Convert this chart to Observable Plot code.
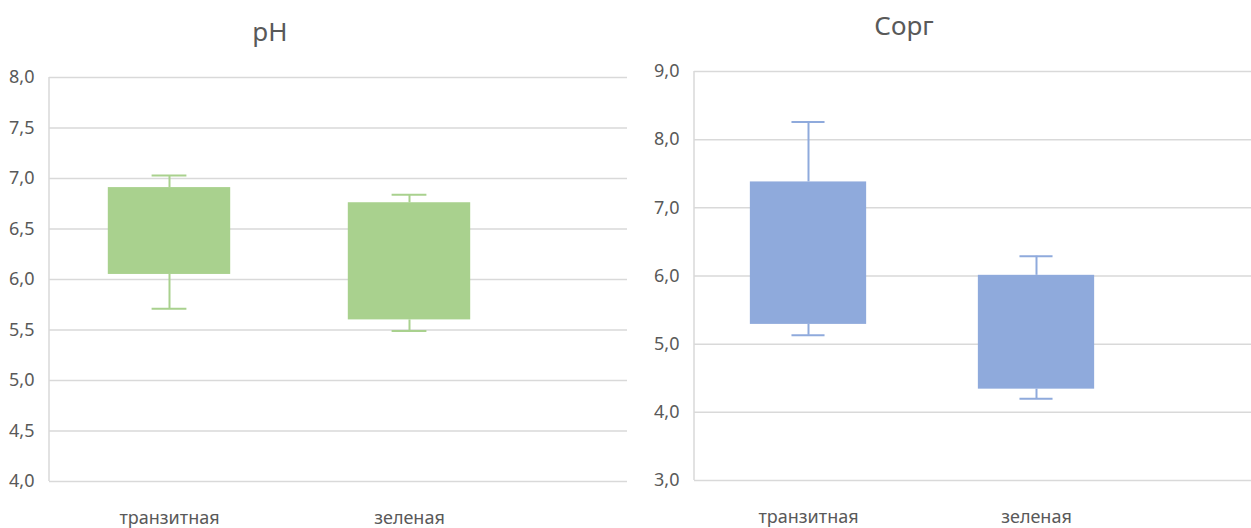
<!DOCTYPE html>
<html><head><meta charset="utf-8">
<script src="https://cdn.jsdelivr.net/npm/d3@7"></script>
<script src="https://cdn.jsdelivr.net/npm/@observablehq/plot@0.6"></script>
<style>
body{margin:0;background:#fff;width:1251px;height:528px;overflow:hidden;position:relative;font-family:"Noto Sans",sans-serif;}
.panel{position:absolute;top:0}
.panel svg text{font-size:18px !important;font-family:"Noto Sans",sans-serif !important;fill:#595959}
.title{position:absolute;font-size:26px;color:#595959;transform:translateX(-50%);white-space:nowrap;line-height:1}
</style></head><body>
<div id="left" class="panel" style="left:0"></div>
<div id="right" class="panel" style="left:620px"></div>
<div class="title" style="left:270px;top:18px">pH</div>
<div class="title" style="left:904px;top:12px">Сорг</div>
<script>
const categories = ["транзитная", "зеленая"];
// pH
const phMin = [5.71, 5.49];
const phQ1  = [6.05, 5.60];
const phQ3  = [6.91, 6.76];
const phMax = [7.03, 6.84];
const phTicks = [4.0, 4.5, 5.0, 5.5, 6.0, 6.5, 7.0, 7.5, 8.0];
// Сорг
const corgMin = [5.13, 4.20];
const corgQ1  = [5.29, 4.34];
const corgQ3  = [7.38, 6.01];
const corgMax = [8.26, 6.29];
const corgTicks = [3, 4, 5, 6, 7, 8, 9];

const fmt = d => d.toFixed(1).replace(".", ",");

function panel({width, height, marginLeft, marginTop, marginBottom, marginRight, band, domain, ticks, color, mins, q1s, q3s, maxs}) {
  const data = categories.map((c, i) => ({cat: c, min: mins[i], q1: q1s[i], q3: q3s[i], max: maxs[i]}));
  const boxInset = band * (1 - 0.51) / 2;
  const capInset = band * (1 - 0.145) / 2;
  const leftLine = (index, scales, values, dims) => {
    return d3.create("svg:line")
      .attr("x1", dims.marginLeft).attr("x2", dims.marginLeft)
      .attr("y1", dims.marginTop).attr("y2", dims.height - dims.marginBottom)
      .attr("stroke", "#d9d9d9").attr("stroke-width", 1.5).node();
  };
  return Plot.plot({
    width, height, marginLeft, marginTop, marginBottom, marginRight,
    style: {color: "#595959", fontFamily: "'Noto Sans', sans-serif", fontSize: "18px", background: "transparent"},
    x: {type: "band", domain: categories, range: [marginLeft, marginLeft + 2 * band], padding: 0},
    y: {domain},
    marks: [
      Plot.gridY(ticks, {stroke: "#d9d9d9", strokeOpacity: 1, strokeWidth: 1.5}),
      leftLine,
      Plot.barY(data, {x: "cat", y1: "q1", y2: "q3", fill: color, insetLeft: boxInset, insetRight: boxInset}),
      Plot.ruleX(data, {x: "cat", y1: "q3", y2: "max", stroke: color, strokeWidth: 2}),
      Plot.ruleX(data, {x: "cat", y1: "min", y2: "q1", stroke: color, strokeWidth: 2}),
      Plot.tickY(data, {x: "cat", y: "max", stroke: color, strokeWidth: 2, insetLeft: capInset, insetRight: capInset}),
      Plot.tickY(data, {x: "cat", y: "min", stroke: color, strokeWidth: 2, insetLeft: capInset, insetRight: capInset}),
      Plot.axisY(ticks, {tickSize: 0, tickPadding: 15, tickFormat: fmt, label: null}),
      Plot.axisX({tickSize: 0, tickPadding: 30, label: null})
    ]
  });
}

document.getElementById("left").append(panel({
  width: 630, height: 528, marginLeft: 49, marginTop: 77, marginBottom: 47, marginRight: 3,
  band: 240, domain: [4, 8], ticks: phTicks, color: "#A9D18E",
  mins: phMin, q1s: phQ1, q3s: phQ3, maxs: phMax
}));
document.getElementById("right").append(panel({
  width: 631, height: 528, marginLeft: 74, marginTop: 71, marginBottom: 48, marginRight: 0,
  band: 228, domain: [3, 9], ticks: corgTicks, color: "#8FAADC",
  mins: corgMin, q1s: corgQ1, q3s: corgQ3, maxs: corgMax
}));
</script>
</body></html>
